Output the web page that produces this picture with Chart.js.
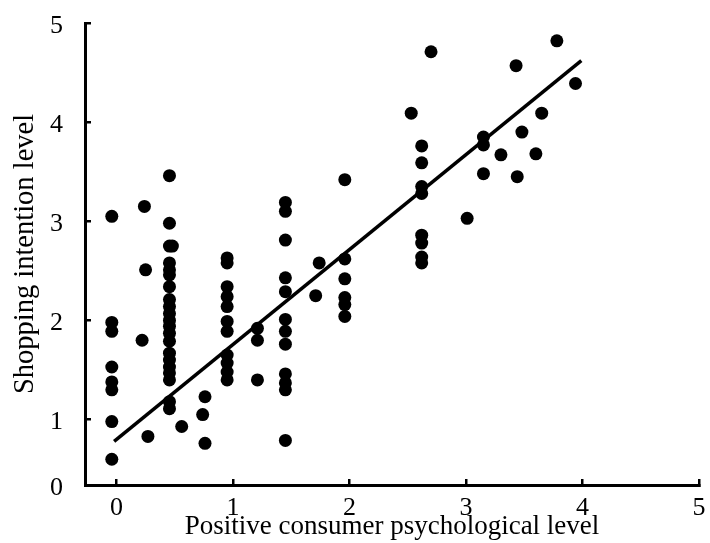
<!DOCTYPE html>
<html>
<head>
<meta charset="utf-8">
<script src="https://cdn.jsdelivr.net/npm/chart.js@4"></script>
<style>
  html, body { margin: 0; padding: 0; background: #fff; }
  #wrap { width: 710px; height: 543px; }
</style>
</head>
<body>
<div id="wrap"><canvas id="chart"></canvas></div>
<script>
// scatter points
const xValues = [
  -0.04, -0.04, -0.04, -0.04, -0.04, -0.04, -0.04, -0.04,
  0.24, 0.25, 0.22, 0.27,
  0.455, 0.455, 0.455, 0.48, 0.455, 0.455, 0.455, 0.455, 0.455, 0.455, 0.455,
  0.455, 0.455, 0.455, 0.455, 0.455, 0.455, 0.455, 0.455, 0.455, 0.455, 0.455,
  0.56, 0.76, 0.74, 0.76,
  0.95, 0.95, 0.95, 0.95, 0.95, 0.95, 0.95, 0.95, 0.95, 0.95, 0.95,
  1.21, 1.21, 1.21,
  1.45, 1.45, 1.45, 1.45, 1.45, 1.45, 1.45, 1.45, 1.45, 1.45, 1.45, 1.45,
  1.74, 1.71,
  1.96, 1.96, 1.96, 1.96, 1.96, 1.96,
  2.53, 2.62, 2.62, 2.62, 2.62, 2.62, 2.62, 2.62, 2.62, 2.70,
  3.01, 3.15, 3.15, 3.15, 3.30, 3.43, 3.44, 3.48, 3.60, 3.65, 3.78, 3.94
];
const yValues = [
  3.05, 1.98, 1.89, 1.53, 1.38, 1.30, 0.98, 0.60,
  3.15, 2.51, 1.80, 0.83,
  3.46, 2.98, 2.75, 2.75, 2.58, 2.51, 2.46, 2.34, 2.21, 2.14, 2.07,
  2.00, 1.94, 1.87, 1.79, 1.67, 1.60, 1.53, 1.47, 1.40, 1.18, 1.11,
  0.93, 1.23, 1.05, 0.76,
  2.63, 2.58, 2.34, 2.24, 2.14, 1.99, 1.89, 1.65, 1.57, 1.48, 1.40,
  1.92, 1.80, 1.40,
  3.19, 3.10, 2.81, 2.43, 2.29, 2.01, 1.89, 1.76, 1.46, 1.37, 1.30, 0.79,
  2.58, 2.25,
  3.42, 2.62, 2.42, 2.23, 2.16, 2.04,
  4.09, 3.76, 3.59, 3.35, 3.28, 2.86, 2.78, 2.64, 2.58, 4.71,
  3.03, 3.85, 3.77, 3.48, 3.67, 4.57, 3.45, 3.90, 3.68, 4.09, 4.82, 4.39
];

// fitted line end points
const fitX = [-0.02, 3.99];
const fitY = [0.78, 4.62];

const xTicks = [0, 1, 2, 3, 4, 5];
const yTicks = [0.34, 1, 2, 3, 4, 5];
const yTickLabels = ["0", "1", "2", "3", "4", "5"];

const serif = "'Liberation Serif', 'Times New Roman', serif";

const points = xValues.map((x, i) => ({ x: x, y: yValues[i] }));
const fitLine = fitX.map((x, i) => ({ x: x, y: fitY[i] }));

new Chart(document.getElementById("chart"), {
  type: "scatter",
  data: {
    datasets: [
      {
        data: points,
        backgroundColor: "#000",
        borderColor: "#000",
        borderWidth: 0,
        pointRadius: 6.5,
        clip: false
      },
      {
        type: "line",
        data: fitLine,
        borderColor: "#000",
        borderWidth: 3.5,
        pointRadius: 0,
        fill: false
      }
    ]
  },
  options: {
    responsive: true,
    maintainAspectRatio: false,
    animation: false,
    layout: { padding: { top: 23, right: 11, left: 0, bottom: 0 } },
    plugins: { legend: { display: false }, tooltip: { enabled: false } },
    scales: {
      x: {
        type: "linear",
        min: -0.27,
        max: 5,
        afterBuildTicks: s => { s.ticks = xTicks.map(v => ({ value: v })); },
        afterFit: s => {
          s.height = 58;
          s.paddingLeft = 0;
          s.paddingRight = 0;
        },
        border: { display: true, color: "#000", width: 3 },
        grid: { drawOnChartArea: false, color: "#000", lineWidth: 2.5, tickLength: -6 },
        ticks: {
          color: "#000",
          font: { family: serif, size: 26 },
          padding: 14,
          maxRotation: 0,
          callback: v => String(v)
        },
        title: {
          display: true,
          text: "Positive consumer psychological level",
          color: "#000",
          font: { family: serif, size: 27 },
          padding: { top: 0, bottom: 0 }
        }
      },
      y: {
        type: "linear",
        min: 0.34,
        max: 5,
        afterBuildTicks: s => { s.ticks = yTicks.map(v => ({ value: v })); },
        afterFit: s => {
          s.width = 85;
          s.paddingTop = 0;
          s.paddingBottom = 0;
        },
        border: { display: true, color: "#000", width: 3 },
        grid: { drawOnChartArea: false, color: "#000", lineWidth: 2.5, tickLength: -6 },
        ticks: {
          color: "#000",
          font: { family: serif, size: 26 },
          padding: 28,
          labelOffset: 3,
          callback: (v, i) => yTickLabels[i]
        },
        title: {
          display: true,
          text: "Shopping intention level",
          color: "#000",
          font: { family: serif, size: 28.5 },
          padding: { top: 8, bottom: 0 }
        }
      }
    }
  }
});
</script>
</body>
</html>
